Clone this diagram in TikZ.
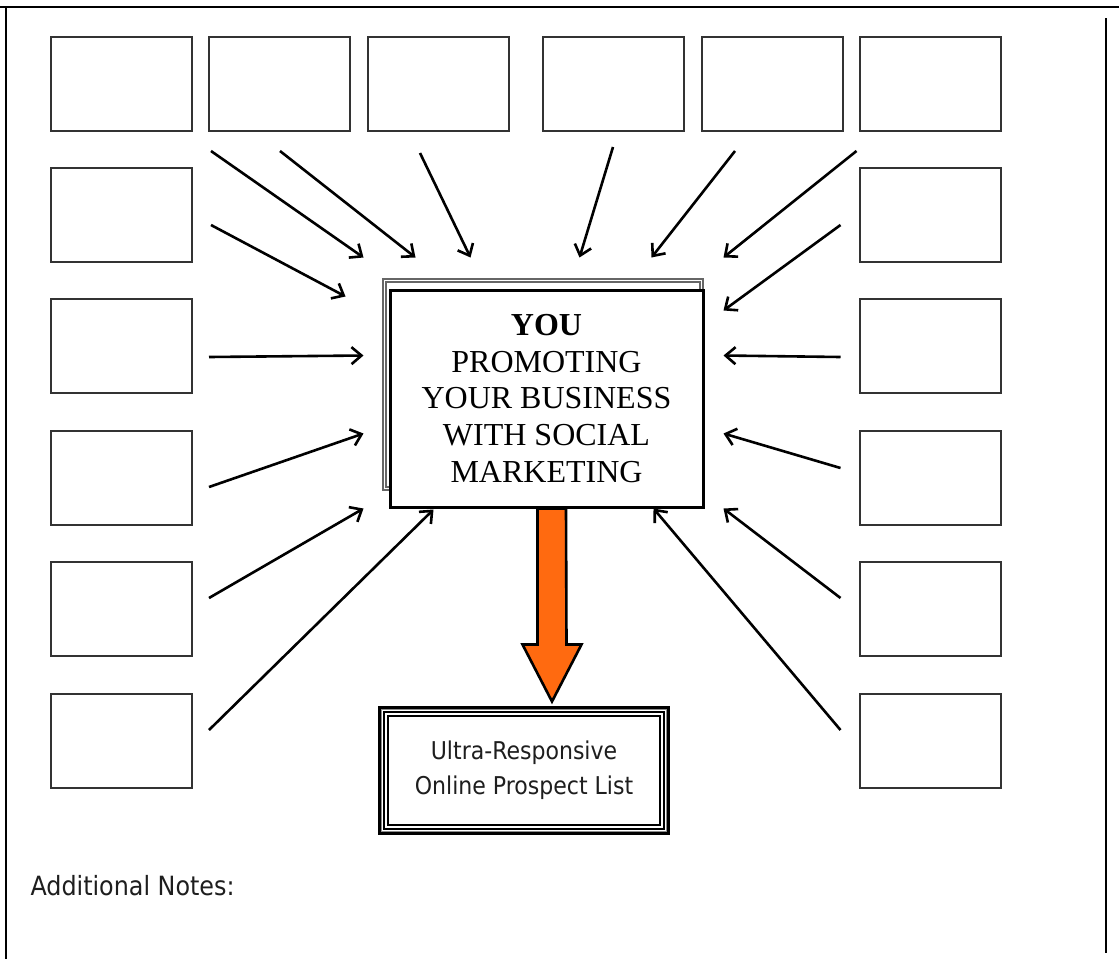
\documentclass[tikz,border=0pt]{standalone}
\usepackage{fontspec}
\setmainfont{Liberation Serif}
\newfontfamily\notefont{DejaVu Sans Condensed}
\usetikzlibrary{positioning,arrows.meta,calc}
\definecolor{boxline}{HTML}{333333}
\definecolor{pushorange}{HTML}{FF6A10}
\definecolor{notegray}{HTML}{1E1E1E}

\tikzset{
  slot/.style={draw=boxline, line width=2pt, minimum width=141pt, minimum height=94pt, inner sep=0pt},
  feed/.style={-{Straight Barb[length=10pt,width=17pt]}, line width=2.6pt},
}

\begin{document}
\begin{tikzpicture}[x=1pt, y=-1pt]
  \fill[white] (0,0) rectangle (1119,959);
  \useasboundingbox (0,0) rectangle (1119,959);

  % page rules
  \draw[line width=2.6pt] (0,7) -- (1119,7);
  \draw[line width=2.6pt] (6,7) -- (6,959);
  \draw[line width=2.6pt] (1106,18) -- (1106,953);

  % empty slots round the centre
  \foreach \n/\x in {1/121.5,2/279,3/438,4/613,5/772,6/930}
    \node[slot] (t\n) at (\x,84) {};
  \foreach \n/\y in {2/215,3/346,4/478,5/609,6/741} {
    \node[slot] (l\n) at (121.5,\y) {};
    \node[slot] (r\n) at (930,\y) {};
  }

  % centre box with its shadow frame
  \node[draw=black!60, double=white, double distance=1.6pt, line width=1.5pt,
        minimum width=317pt, minimum height=208pt] (frame) at (543,384.5) {};
  \node[draw, line width=3pt, fill=white, minimum width=313pt, minimum height=217pt,
        align=center, font=\fontsize{32}{36.7}\selectfont] (you) at (546.5,398.5)
    {\textbf{YOU}\\PROMOTING\\YOUR BUSINESS\\WITH SOCIAL\\MARKETING};

  % result box
  \node[draw, line width=3.5pt, fill=white, minimum width=288pt, minimum height=125pt,
        align=center, font=\notefont\fontsize{24.5}{35}\selectfont, text=notegray] (list) at (524,770.5)
    {Ultra-Responsive\\Online Prospect List};
  \draw[black!45, line width=1.4pt] ([shift={(3.4,3.4)}]list.north west) rectangle ([shift={(-3.4,-3.4)}]list.south east);
  \draw[line width=2pt] ([shift={(5.8,5.8)}]list.north west) rectangle ([shift={(-5.8,-5.8)}]list.south east);
  \draw[line width=1.8pt] ([shift={(9.8,9.8)}]list.north west) rectangle ([shift={(-9.8,-9.8)}]list.south east);

  % big arrow down
  \draw[fill=pushorange, line width=2.6pt, line join=miter]
    ([xshift=-9]you.south) -- ++(0,136) -- ++(-15,0) -- ++(29.5,57) -- ++(29.5,-57)
    -- ++(-15,0) -- ([xshift=19.5]you.south) -- cycle;

  % arrows into the centre
  \draw[feed] ([shift={(18,19)}]t1.south east) -- ([shift={(-25,-31)}]you.north west);
  \draw[feed] ([shift={(1,19)}]t2.south) -- ([shift={(27,-31)}]you.north west);
  \draw[feed] ([shift={(-18,21)}]t3.south) -- ([shift={(82,-31)}]you.north west);
  \draw[feed] ([shift={(0,15)}]t4.south) -- ([shift={(-125,-31)}]you.north east);
  \draw[feed] ([shift={(-37,19)}]t5.south) -- ([shift={(-53,-31)}]you.north east);
  \draw[feed] ([shift={(-2,19)}]t6.south west) -- ([shift={(19,-31)}]you.north east);
  \draw[feed] ([shift={(18,10)}]l2.east) -- ([shift={(-43,8)}]you.north west);
  \draw[feed] ([shift={(-18,10)}]r2.west) -- ([shift={(19,22)}]you.north east);
  \draw[feed] ([shift={(16,11)}]l3.east) -- ([shift={(-25,67)}]you.north west);
  \draw[feed] ([shift={(-18,11)}]r3.west) -- ([shift={(19,67)}]you.north east);
  \draw[feed] ([shift={(16,9)}]l4.east) -- ([shift={(-25,-75)}]you.south west);
  \draw[feed] ([shift={(-18,-10)}]r4.west) -- ([shift={(19,-75)}]you.south east);
  \draw[feed] ([shift={(16,-11)}]l5.east) -- ([shift={(-25,0)}]you.south west);
  \draw[feed] ([shift={(-18,-11)}]r5.west) -- ([shift={(19,0)}]you.south east);
  \draw[feed] ([shift={(16,-11)}]l6.east) -- ([shift={(45,1)}]you.south west);
  \draw[feed] ([shift={(-18,-11)}]r6.west) -- ([shift={(-51,0)}]you.south east);

  \node[anchor=west, font=\notefont\fontsize{26.5}{30}\selectfont, text=notegray] (notes) at (27,886) {Additional Notes:};
\end{tikzpicture}
\end{document}
